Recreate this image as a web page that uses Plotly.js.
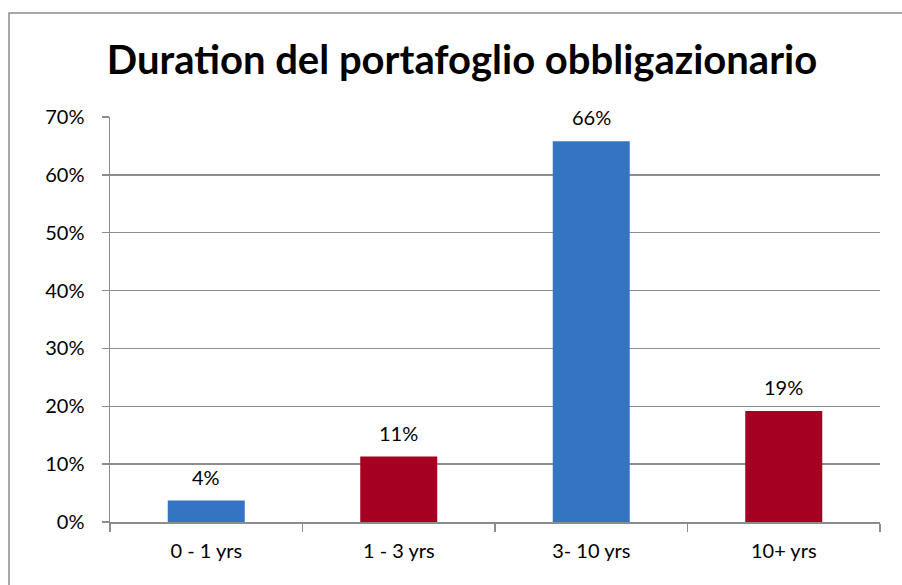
<!DOCTYPE html>
<html>
<head>
<meta charset="utf-8">
<script src="https://cdn.plot.ly/plotly-3.0.1.min.js"></script>
<style>
  html, body { margin: 0; padding: 0; background: #ffffff; }
  #chart { width: 902px; height: 585px; }
</style>
</head>
<body>
<div id="chart"></div>
<script>
const categories = ["0 - 1 yrs", "1 - 3 yrs", "3- 10 yrs", "10+ yrs"];
const values = [0.037, 0.113, 0.658, 0.192];
const barColors = ["#3574c2", "#a50021", "#3574c2", "#a50021"];
const titleText = "Duration del portafoglio obbligazionario";
const yTickVals = [0, 0.1, 0.2, 0.3, 0.4, 0.5, 0.6, 0.7];

const W = 902, H = 585;
const m = { l: 110, r: 22, t: 117, b: 63 };
const pw = W - m.l - m.r, ph = H - m.t - m.b;
const px = x => (x - m.l) / pw;
const py = y => (H - m.b - y) / ph;

const font = "Lato, 'Open Sans', sans-serif";

const trace = {
  type: "bar",
  x: categories,
  y: values,
  width: 0.4,
  marker: { color: barColors, line: { width: 0 } },
  cliponaxis: false,
  hoverinfo: "x+y"
};

const labelAnnotations = categories.map((c, i) => ({
  x: c, y: values[i], xref: "x", yref: "y",
  text: Math.round(values[i] * 100) + "%",
  showarrow: false, yanchor: "bottom", yshift: 10,
  font: { family: font, size: 20, color: "#000000" }
}));

const layout = {
  width: W, height: H,
  margin: m,
  paper_bgcolor: "#ffffff",
  plot_bgcolor: "#ffffff",
  showlegend: false,
  bargap: 0.6,
  title: {
    text: "<b>" + titleText + "</b>",
    font: { family: font, size: 40, color: "#000000" },
    x: px(462), xref: "paper", xanchor: "center",
    y: 1 - 60 / H, yanchor: "middle"
  },
  xaxis: {
    type: "category",
    showgrid: false,
    showline: true, linecolor: "#8c8c8c", linewidth: 1.5,
    ticks: "outside", tickson: "boundaries", ticklen: 8, tickcolor: "#8c8c8c", tickwidth: 1.5,
    ticklabelstandoff: 10,
    tickfont: { family: font, size: 20, color: "#000000" },
    zeroline: false
  },
  yaxis: {
    range: [0, 0.7],
    tickvals: yTickVals,
    tickformat: ".0%",
    showgrid: true, gridcolor: "#8c8c8c", gridwidth: 1.5,
    showline: true, linecolor: "#8c8c8c", linewidth: 1.5,
    ticks: "outside", ticklen: 7, tickcolor: "#8c8c8c", tickwidth: 1.5,
    ticklabelstandoff: 13,
    tickfont: { family: font, size: 20, color: "#000000" },
    zeroline: false
  },
  annotations: labelAnnotations,
  shapes: [
    {
      type: "path", xref: "paper", yref: "paper",
      path: "M " + px(9) + " " + py(H + 5) + " L " + px(9) + " " + py(13) + " L " + px(W + 5) + " " + py(13),
      line: { color: "#8c8c8c", width: 1.5 }
    }
  ]
};

Plotly.newPlot("chart", [trace], layout, { displayModeBar: false, staticPlot: true });
</script>
</body>
</html>
